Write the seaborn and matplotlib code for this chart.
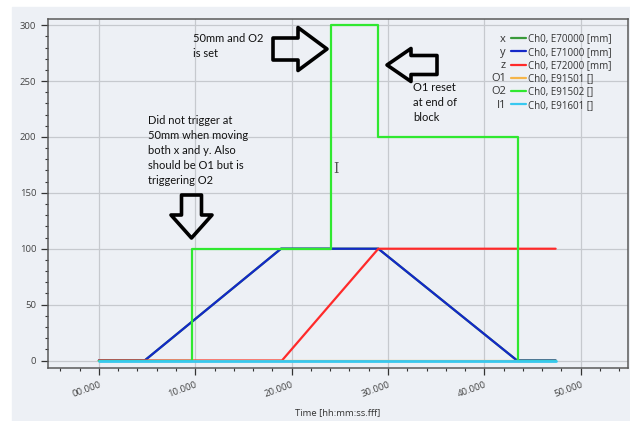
import numpy as np
import pandas as pd
import matplotlib.pyplot as plt
import seaborn as sns
from matplotlib.lines import Line2D
from matplotlib.patches import Rectangle
from matplotlib.ticker import MultipleLocator, FuncFormatter

# channel traces, time in seconds
names = ['x', 'y', 'z', 'O1', 'O2', 'I1']
channels = ['Ch0, E70000 [mm]', 'Ch0, E71000 [mm]', 'Ch0, E72000 [mm]',
            'Ch0, E91501 []', 'Ch0, E91502 []', 'Ch0, E91601 []']
colors = ['#3a9a3a', '#1428c8', '#ff2a2a', '#f5b54a', '#30e830', '#38c8f0']

t_x = [0, 4.75, 18.9, 29.0, 43.4, 47.4]
v_x = [0, 0, 100, 100, 0, 0]
t_y = [0, 4.75, 18.9, 29.0, 43.4, 47.4]
v_y = [0, 0, 100, 100, 0, 0]
t_z = [0, 19.0, 29.0, 47.4]
v_z = [0, 0, 100, 100]
t_o1 = [0, 47.4]
v_o1 = [0, 0]
t_o2 = [0, 9.7, 9.7, 24.1, 24.1, 29.0, 29.0, 43.45, 43.45, 47.4]
v_o2 = [0, 0, 100, 100, 300, 300, 200, 200, 0, 0]
t_i1 = [0, 47.4]
v_i1 = [0, 0]

series = [(t_x, v_x), (t_y, v_y), (t_z, v_z), (t_o1, v_o1), (t_o2, v_o2), (t_i1, v_i1)]
frames = []
for name, (t, v) in zip(names, series):
    frames.append(pd.DataFrame({'time': t, 'value': v, 'channel': name}))
df = pd.concat(frames, ignore_index=True)

sns.set_theme(style='ticks')
plt.rcParams['font.family'] = ['Open Sans', 'DejaVu Sans']

bg = '#edf0f5'
fig = plt.figure(figsize=(6.3, 4.21), dpi=100)
fig.patch.set_facecolor('white')
fig.add_artist(Rectangle((12 / 630, 0), 1, 1 - 7 / 421, transform=fig.transFigure,
                         color=bg, zorder=-10))
ax = fig.add_axes([48 / 630, 1 - 368 / 421, 579.7 / 630, 349 / 421])
ax.set_facecolor(bg)

for name, color in zip(names, colors):
    lw = 2.0 if name == 'I1' else 1.6
    sns.lineplot(data=df[df['channel'] == name], x='time', y='value', sort=False,
                 estimator=None, color=color, lw=lw, ax=ax, legend=False)

ax.set_xlim(-5.28, 54.88)
ax.set_ylim(-6.7, 305.5)
ax.xaxis.set_major_locator(MultipleLocator(10))
ax.xaxis.set_minor_locator(MultipleLocator(2))
ax.yaxis.set_major_locator(MultipleLocator(50))
ax.yaxis.set_minor_locator(MultipleLocator(10))
ax.xaxis.set_major_formatter(FuncFormatter(lambda v, p: f'{int(round(v)):02d}.000'))
ax.grid(True, which='major', color='#c6c9ce', lw=0.9)
ax.set_axisbelow(True)
for s in ax.spines.values():
    s.set_color('#5a5a5a')
    s.set_linewidth(1.1)
ax.tick_params(which='major', length=5, width=0.9, color='#333333',
               labelsize=6.8, labelcolor='#444444')
ax.tick_params(which='minor', length=2.5, width=0.8, color='#333333')
for lab in ax.get_xticklabels():
    lab.set_rotation(20)
    lab.set_ha('right')
    lab.set_rotation_mode('anchor')
ax.set_xlabel('Time [hh:mm:ss.fff]', fontsize=6.8, color='#333333', labelpad=7)
ax.set_ylabel('')

# legend: line + channel text, names placed to the left of each row
handles = [Line2D([], [], color=c, lw=1.6) for c in colors]
leg = ax.legend(handles, channels, loc='upper left', frameon=False,
                bbox_to_anchor=(511 / 630, 1 - 33.5 / 421), bbox_transform=fig.transFigure,
                fontsize=7, handlelength=1.5, handletextpad=0.3, labelspacing=0.23,
                borderaxespad=0, borderpad=0, labelcolor='#333333')
fig.canvas.draw()
renderer = fig.canvas.get_renderer()
for name, txt in zip(names, leg.get_texts()):
    bb = txt.get_window_extent(renderer)
    yc = (bb.y0 + bb.y1) / 2
    fig.text(506 / 630, yc / 421, name, ha='right', va='center',
             fontsize=8, color='#333333')

# annotations
note = dict(fontsize=8, color='#111111', family=['Lato', 'DejaVu Sans'],
            linespacing=1.45, va='top', ha='left')
fig.text(148 / 630, 1 - 115 / 421,
         'Did not trigger at\n50mm when moving\nboth x and y. Also\nshould be O1 but is\ntriggering O2',
         **note)
fig.text(193 / 630, 1 - 33 / 421, '50mm and O2\nis set', **note)
fig.text(413 / 630, 1 - 82 / 421, 'O1 reset\nat end of\nblock', **note)
fig.text(336 / 630, 1 - 169 / 421, 'I', fontsize=10, color='#555555', ha='center',
         va='center', family='DejaVu Serif')


def hollow_arrow(tail, tip, tail_w, head_w, head_l):
    style = f'simple,head_length={head_l * 0.72},head_width={head_w * 0.72},tail_width={tail_w * 0.72}'
    ax.annotate('', xy=(tip[0], 421 - tip[1]), xytext=(tail[0], 421 - tail[1]),
                xycoords='figure pixels', textcoords='figure pixels',
                arrowprops=dict(arrowstyle=style, fc='none', ec='black', lw=2.6,
                                shrinkA=0, shrinkB=0, mutation_scale=1))


hollow_arrow((191.5, 195), (191.5, 238), 20, 41, 23)
hollow_arrow((273, 49), (327, 49), 22, 43, 29)
hollow_arrow((437, 65), (387, 65), 19, 33, 24)

fig.savefig('out.png', dpi=100)
